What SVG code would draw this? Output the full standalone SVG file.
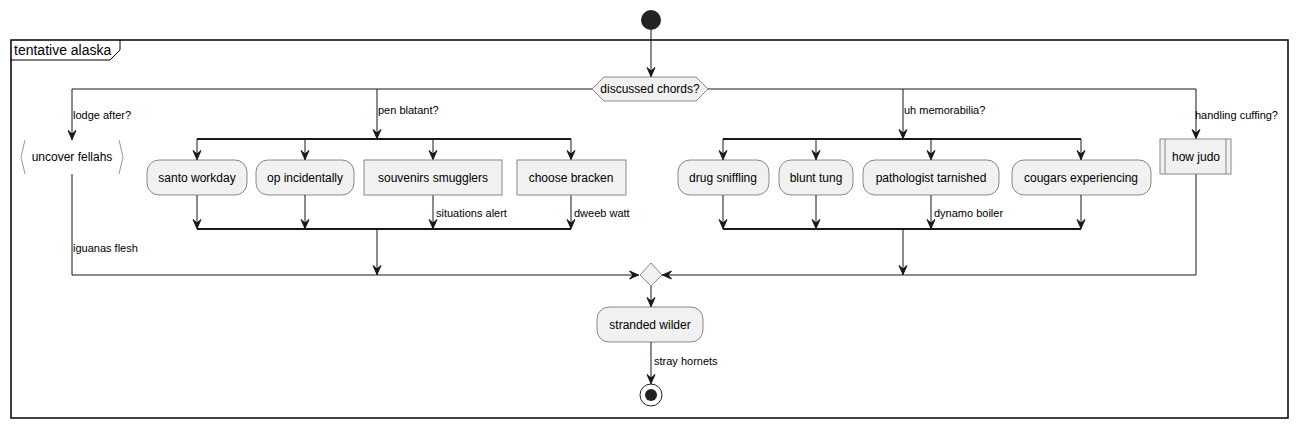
<svg xmlns="http://www.w3.org/2000/svg" width="1298" height="428" viewBox="0 0 1298 428">
<style>
text{font-family:"Liberation Sans",Arial,sans-serif;fill:#000}
.n{font-size:12px;text-anchor:middle}
.l{font-size:11px}
.box{fill:#F1F1F1;stroke:#181818;stroke-width:0.5}
.sq{fill:#F1F1F1;stroke:#888;stroke-width:1}
.e{fill:none;stroke:#181818;stroke-width:1}
.bar{fill:none;stroke:#181818;stroke-width:2}
</style>
<defs>
<marker id="a" viewBox="0 0 10 10" refX="10" refY="5" markerWidth="10" markerHeight="10" markerUnits="userSpaceOnUse" orient="auto">
<path d="M0.5,1 L9.5,5 L0.5,9 L4,5 Z" fill="#181818" stroke="#181818" stroke-width="1" stroke-linejoin="miter"/>
</marker>
</defs>
<rect width="1298" height="428" fill="#fff"/>
<g id="frame">
<rect x="11" y="40" width="1277" height="378" fill="none" stroke="#000" stroke-width="1.5"/>
<path d="M11,60 L110,60 L120,50 L120,40" fill="none" stroke="#000" stroke-width="1"/>
<text x="14" y="55" style="font-size:14px">tentative alaska</text>
</g>
<g id="connectors">
<path class="e" d="M651,30 L651,77" marker-end="url(#a)"/>
<path class="e" d="M592,89 L72,89 L72,140" marker-end="url(#a)"/>
<path class="e" d="M377,89 L377,139" marker-end="url(#a)"/>
<path class="e" d="M708,89 L1196,89 L1196,139" marker-end="url(#a)"/>
<path class="e" d="M903,89 L903,139" marker-end="url(#a)"/>
<path class="bar" d="M197,139 L571,139"/>
<path class="e" d="M197,139 L197,160" marker-end="url(#a)"/>
<path class="e" d="M305,139 L305,160" marker-end="url(#a)"/>
<path class="e" d="M433,139 L433,160" marker-end="url(#a)"/>
<path class="e" d="M571,139 L571,160" marker-end="url(#a)"/>
<path class="e" d="M197,195 L197,229" marker-end="url(#a)"/>
<path class="e" d="M305,195 L305,229" marker-end="url(#a)"/>
<path class="e" d="M433,195 L433,229" marker-end="url(#a)"/>
<path class="e" d="M571,195 L571,229" marker-end="url(#a)"/>
<path class="bar" d="M197,229 L571,229"/>
<path class="e" d="M377,229 L377,275" marker-end="url(#a)"/>
<path class="bar" d="M723,139 L1081,139"/>
<path class="e" d="M723,139 L723,160" marker-end="url(#a)"/>
<path class="e" d="M816,139 L816,160" marker-end="url(#a)"/>
<path class="e" d="M931,139 L931,160" marker-end="url(#a)"/>
<path class="e" d="M1081,139 L1081,160" marker-end="url(#a)"/>
<path class="e" d="M723,195 L723,229" marker-end="url(#a)"/>
<path class="e" d="M816,195 L816,229" marker-end="url(#a)"/>
<path class="e" d="M931,195 L931,229" marker-end="url(#a)"/>
<path class="e" d="M1081,195 L1081,229" marker-end="url(#a)"/>
<path class="bar" d="M723,229 L1081,229"/>
<path class="e" d="M903,229 L903,275" marker-end="url(#a)"/>
<path class="e" d="M72,174 L72,275 L639,275" marker-end="url(#a)"/>
<path class="e" d="M1196,174 L1196,275 L662,275" marker-end="url(#a)"/>
<path class="e" d="M651,286 L651,307" marker-end="url(#a)"/>
<path class="e" d="M651,342 L651,384" marker-end="url(#a)"/>
<text class="l" x="73" y="119">lodge after?</text>
<text class="l" x="378" y="114">pen blatant?</text>
<text class="l" x="904" y="114">uh memorabilia?</text>
<text class="l" x="1195" y="119">handling cuffing?</text>
<text class="l" x="436" y="217">situations alert</text>
<text class="l" x="574" y="217">dweeb watt</text>
<text class="l" x="934" y="217">dynamo boiler</text>
<text class="l" x="73" y="252">iguanas flesh</text>
<text class="l" x="654" y="365">stray hornets</text>
</g>
<g id="start"><circle cx="651" cy="20" r="10" fill="#222"/></g>
<g id="decision"><polygon class="box" points="592,89 604,77 696,77 708,89 696,101 604,101"/><text class="n" x="650" y="93">discussed chords?</text></g>
<g id="uncover"><polyline points="25,140 21,157 25,174" fill="none" stroke="#999" stroke-width="1"/><polyline points="119,140 123,157 119,174" fill="none" stroke="#999" stroke-width="1"/><text class="n" x="72" y="161">uncover fellahs</text></g>
<g id="santo"><rect class="box" x="147" y="160" width="100" height="35" rx="12"/><text class="n" x="197" y="182">santo workday</text></g>
<g id="op"><rect class="box" x="256" y="160" width="98" height="35" rx="12"/><text class="n" x="305" y="182">op incidentally</text></g>
<g id="souvenirs"><rect class="sq" x="364" y="160" width="138" height="35"/><text class="n" x="433" y="182">souvenirs smugglers</text></g>
<g id="choose"><rect class="sq" x="517" y="160" width="109" height="35"/><text class="n" x="571" y="182">choose bracken</text></g>
<g id="drug"><rect class="box" x="678" y="160" width="91" height="35" rx="12"/><text class="n" x="723" y="182">drug sniffling</text></g>
<g id="blunt"><rect class="box" x="779" y="160" width="74" height="35" rx="12"/><text class="n" x="816" y="182">blunt tung</text></g>
<g id="pathologist"><rect class="box" x="863" y="160" width="136" height="35" rx="12"/><text class="n" x="931" y="182">pathologist tarnished</text></g>
<g id="cougars"><rect class="box" x="1012" y="160" width="139" height="35" rx="12"/><text class="n" x="1081" y="182">cougars experiencing</text></g>
<g id="howjudo"><rect class="sq" x="1160" y="139" width="71" height="35"/><line x1="1165" y1="139" x2="1165" y2="174" stroke="#888"/><line x1="1226" y1="139" x2="1226" y2="174" stroke="#888"/><text class="n" x="1196" y="161">how judo</text></g>
<g id="merge"><polygon class="box" points="651,263 662,275 651,286 640,275"/></g>
<g id="stranded"><rect class="box" x="597" y="307" width="106" height="35" rx="12"/><text class="n" x="650" y="329">stranded wilder</text></g>
<g id="end"><circle cx="651" cy="395" r="11" fill="none" stroke="#222" stroke-width="1"/><circle cx="651" cy="395" r="6" fill="#222"/></g>
</svg>
